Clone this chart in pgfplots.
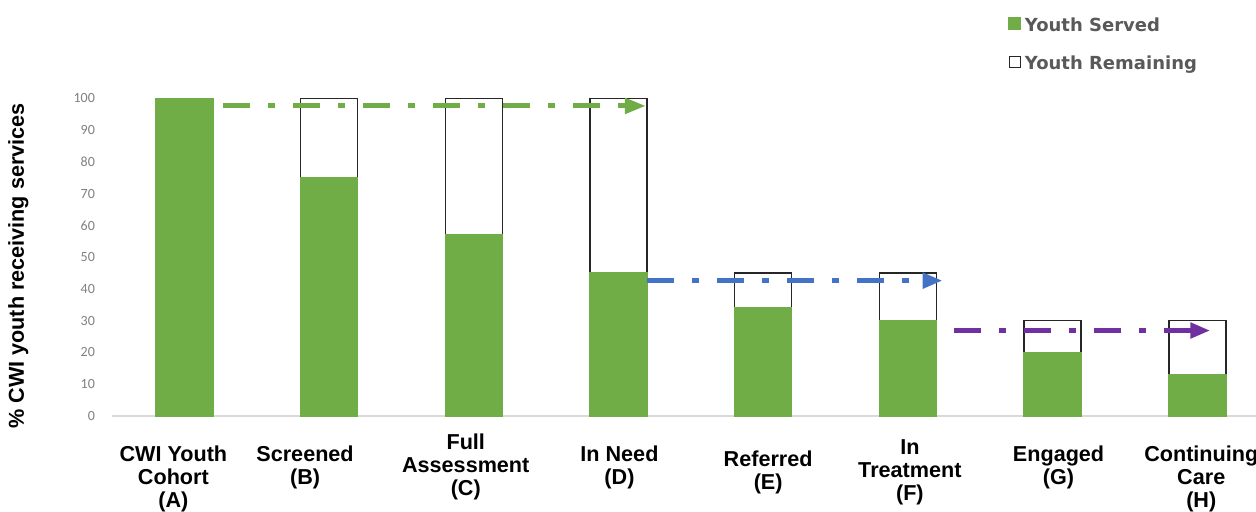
\documentclass[border=0pt]{standalone}
\usepackage{fontspec}
\setmainfont{Liberation Sans}
\newfontfamily\carlito{Carlito}
\newfontfamily\dejavu{DejaVu Sans}
\usepackage{pgfplots}
\usepackage{pgfplotstable}
\pgfplotsset{compat=1.18}
\usetikzlibrary{arrows.meta}
\definecolor{cgreen}{HTML}{70AD47}
\definecolor{cblue}{HTML}{4472C4}
\definecolor{cpurple}{HTML}{7030A0}
\definecolor{ctick}{HTML}{808080}
\definecolor{clegend}{HTML}{595959}

\pgfplotstableread{
x served remaining
0 100 0
1 75 25
2 57 43
3 45 55
4 34 11
5 30 15
6 20 10
7 13 17
}\datatable

\newcommand{\xl}[3]{\makebox[0pt]{\kern#2\kern#2\raisebox{#1}{\begin{tabular}[t]{@{}c@{}}#3\end{tabular}}}}

\begin{document}
\begin{tikzpicture}
\begin{axis}[
  at={(0pt,0pt)}, anchor=south west,
  scale only axis, width=578.8pt, height=158.85pt,
  xmin=-0.5, xmax=7.5, ymin=0, ymax=100,
  ybar stacked, bar width=28.5pt,
  stacked ignores zero,
  clip=false,
  axis lines*=left,
  x axis line style={draw=black!15, line width=0.8pt},
  y axis line style={draw=none},
  major tick length=0pt,
  tick style={draw=none},
  ytick={0,10,...,100},
  yticklabel style={font=\carlito\fontsize{7}{8}\selectfont, text=ctick, xshift=-5pt},
  /pgf/number format/assume math mode=true,
  xtick={0,...,7},
  xticklabels={
    {\xl{0pt}{-5.5pt}{CWI Youth\\Cohort\\(A)}},
    {\xl{0pt}{-12pt}{Screened\\(B)}},
    {\xl{6pt}{-4pt}{Full\\Assessment\\(C)}},
    {\xl{0pt}{0.5pt}{In Need\\(D)}},
    {\xl{-2.5pt}{2.5pt}{Referred\\(E)}},
    {\xl{3.5pt}{1pt}{In\\Treatment\\(F)}},
    {\xl{0pt}{3pt}{Engaged\\(G)}},
    {\xl{0pt}{2pt}{Continuing\\Care\\(H)}}
  },
  xticklabel style={anchor=base, yshift=-23pt, inner sep=0pt,
    font=\bfseries\fontsize{10.8}{11.5}\selectfont},
  ylabel={\% CWI youth receiving services},
  every axis y label/.style={at={(axis description cs:-0.081,0.472)}, rotate=90, anchor=center,
    font=\bfseries\fontsize{10.8}{12}\selectfont},
  legend style={at={(axis description cs:0.774,1.262)}, anchor=north west,
    draw=none, fill=none, inner sep=0pt,
    font=\dejavu\bfseries\fontsize{9}{10.5}\selectfont, text=clegend,
    row sep=9pt,
    nodes={inner sep=1pt, inner xsep=2pt}},
  legend cell align=left,
]
\addplot[fill=cgreen, draw=cgreen, line width=0.75pt,
  legend image code/.code={\fill[cgreen] (0pt,-1.5pt) rectangle (5.5pt,4pt);}]
  table[x=x,y=served]{\datatable};
\addplot[fill=white, draw=black!85, line width=0.75pt,
  legend image code/.code={\draw[black!85, line width=0.6pt, fill=white] (0pt,-1.5pt) rectangle (5.5pt,4pt);}]
  table[x=x,y=remaining]{\datatable};
\legend{Youth Served, Youth Remaining}
\end{axis}
\begin{axis}[
  at={(0pt,0pt)}, anchor=south west,
  scale only axis, width=578.8pt, height=158.85pt,
  xmin=-0.5, xmax=7.5, ymin=0, ymax=100,
  hide axis, clip=false,
]
\addplot[cgreen, line width=2.5pt, dash pattern=on 13.5pt off 9pt on 3.5pt off 9pt,
  -{Triangle[length=10.5pt,width=7.5pt]}] coordinates {(0.27,97.6) (3.19,97.6)};
\addplot[cblue, line width=2.5pt, dash pattern=on 13.5pt off 9pt on 3.5pt off 9pt,
  -{Triangle[length=10pt,width=7.5pt]}] coordinates {(3.2,42.6) (5.24,42.6)};
\addplot[cpurple, line width=2.5pt, dash pattern=on 13.5pt off 9pt on 3.5pt off 9pt,
  -{Triangle[length=10pt,width=7.5pt]}] coordinates {(5.32,26.9) (7.09,26.9)};
\end{axis}
\pgfresetboundingbox
\path[use as bounding box] (-56pt,-48pt) rectangle (572pt,208pt);
\end{tikzpicture}
\end{document}
